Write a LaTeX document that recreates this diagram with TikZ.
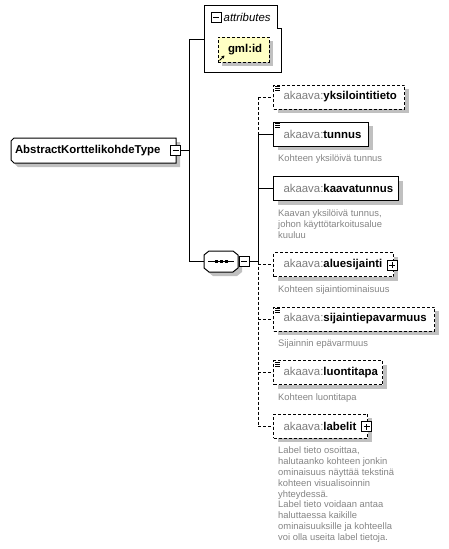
\documentclass[tikz,border=0pt]{standalone}
\usepackage{fontspec}
\setmainfont{Liberation Sans}
\usetikzlibrary{shadows,arrows.meta}
\definecolor{prefc}{HTML}{7C7C7C}
\definecolor{descc}{HTML}{858585}
\definecolor{shadowc}{HTML}{C0C0C0}
\definecolor{attrfill}{HTML}{FFFFC4}
\newcommand\lblsize{\fontsize{11.4pt}{13pt}\selectfont}
\newcommand\dscsize{\fontsize{9.4pt}{10.9pt}\selectfont}
\newcommand\elname[2]{\makebox[#1][l]{\textcolor{prefc}{akaava:}\textbf{#2}}}
\begin{document}
\begin{tikzpicture}[x=1pt,y=-1pt,
  shad/.style={drop shadow={shadow xshift=4pt,shadow yshift=-4pt,fill=shadowc,opacity=1}},
  elem/.style={draw,line width=1pt,fill=white,minimum height=24pt,inner sep=0pt,font=\lblsize,shad,anchor=west},
  optelem/.style={elem,dash pattern=on 3pt off 2pt},
  desc/.style={anchor=north west,inner sep=0pt,align=left,font=\dscsize,text=descc},
  conn/.style={line width=1pt},
  optconn/.style={conn,dash pattern=on 3pt off 2pt},
  pm/.style={draw,fill=white,minimum size=10pt,inner sep=0pt,line width=0.8pt},
  pmline/.style={line width=0.8pt},
  outline/.style={draw,line width=1pt,fill=white},
]
\fill[white] (0,0) rectangle (448,549);
\useasboundingbox (0,0) rectangle (448,549);

% main type node (shape drawn directly, node carries name and text)
\fill[shadowc] (18,142) -- (180,142) -- (180,167) -- (18,167) -- (15,164) -- (15,145) -- cycle;
\draw[outline] (14,138) -- (176,138) -- (176,163) -- (14,163) -- (11,160) -- (11,141) -- cycle;
\node[minimum width=165pt, minimum height=25pt, inner sep=0pt, font=\lblsize]
  (main) at (93.5,150.5) {\makebox[157pt][l]{\textbf{AbstractKorttelikohdeType}}};
\node[pm] (mainpm) at (175.5,150.5) {};
\draw[pmline] ([xshift=-3pt]mainpm.center) -- ([xshift=3pt]mainpm.center);

% attributes box
\draw[outline] (204,5) -- (277,5) -- (277,28) -- (281,28) -- (281,72) -- (204,72) -- cycle;
\coordinate (attrw) at (204,39);
\node[pm] (attrpm) at (216,17) {};
\draw[pmline] ([xshift=-3pt]attrpm.center) -- ([xshift=3pt]attrpm.center);
\node[anchor=west, inner sep=0pt, font=\lblsize\itshape] (attrlbl) at (223.5,17) {attributes};
\node[draw, dash pattern=on 3pt off 2pt, line width=1pt, fill=attrfill, shad,
  minimum width=51pt, minimum height=25pt, inner sep=0pt, font=\lblsize]
  (gmlid) at (243.5,49.5) {\makebox[31pt][l]{\textbf{gml:id}}};
\draw[line width=1pt, -{Stealth[length=3pt,width=3.5pt]}] ([shift={(2,-2)}]gmlid.south west) -- ++(5,-5);

% sequence compositor
\fill[shadowc] (213,255) -- (237,255) -- (242,259) -- (242,272) -- (237,276) -- (213,276) -- (208,272) -- (208,259) -- cycle;
\draw[outline] (209,251) -- (233,251) -- (238,255) -- (238,268) -- (233,272) -- (209,272) -- (204,268) -- (204,255) -- cycle;
\node[minimum width=34pt, minimum height=21pt, inner sep=0pt] (seq) at (221,261.5) {};
\draw[line width=1pt] ([xshift=-13pt]seq.center) -- ([xshift=13pt]seq.center);
\foreach \d in {-5,0,5} \fill ([xshift=\d pt]seq.center) +(-1.5,-1.5) rectangle +(1.5,1.5);
\node[pm, anchor=west] (seqpm) at ([xshift=0.5pt]seq.east) {};
\draw[pmline] ([xshift=-3pt]seqpm.center) -- ([xshift=3pt]seqpm.center);

% trunk 1
\coordinate (j1) at (189,150.5);
\coordinate (ja) at (189,39);
\coordinate (js) at (189,261.5);
\draw[conn] (mainpm.east) -- (j1);
\draw[conn] (attrw) -- (ja) -- (js) -- (seq.west);

% children
\node[optelem, minimum width=131pt] (c1) at (273,97) {\elname{111pt}{yksilointitieto}};
\node[elem, minimum width=95pt] (c2) at (273,134) {\elname{75pt}{tunnus}};
\node[elem, minimum width=125pt] (c3) at (273,188.5) {\elname{105pt}{kaavatunnus}};
\node[optelem, minimum width=120pt] (c4) at (273,264.5) {\elname{100pt}{aluesijainti}};
\node[optelem, minimum width=161pt] (c5) at (273,319) {\elname{141pt}{sijaintiepavarmuus}};
\node[optelem, minimum width=109pt] (c6) at (273,372.5) {\elname{89pt}{luontitapa}};
\node[optelem, minimum width=94pt] (c7) at (273,426) {\elname{74pt}{labelit}};

\node[pm] (c4pm) at (392,265) {};
\draw[pmline] ([xshift=-3pt]c4pm.center) -- ([xshift=3pt]c4pm.center);
\draw[pmline] ([yshift=-3pt]c4pm.center) -- ([yshift=3pt]c4pm.center);
\node[pm] (c7pm) at (366.5,426.5) {};
\draw[pmline] ([xshift=-3pt]c7pm.center) -- ([xshift=3pt]c7pm.center);
\draw[pmline] ([yshift=-3pt]c7pm.center) -- ([yshift=3pt]c7pm.center);

\foreach \n in {c1,c2,c5,c6} {
  \foreach \k in {2,4,6} \draw[line width=0.8pt] ([shift={(2,\k)}]\n.north west) -- ++(5,0);
}

% trunk 2
\coordinate (t1) at (258,97);
\coordinate (t2) at (258,134);
\coordinate (t3) at (258,188.5);
\coordinate (tseq) at (258,261.5);
\coordinate (t4) at (258,264.5);
\coordinate (t5) at (258,319);
\coordinate (t6) at (258,372.5);
\coordinate (t7) at (258,426);
\draw[conn] (seqpm.east) -- (tseq);
\draw[optconn] (t1) -- (t2);
\draw[conn] (t2) -- (tseq);
\draw[optconn] (tseq) -- (t7);
\draw[optconn] (t1) -- (c1.west);
\draw[conn] (t2) -- (c2.west);
\draw[conn] (t3) -- (c3.west);
\draw[optconn] (t4) -- (c4.west);
\draw[optconn] (t5) -- (c5.west);
\draw[optconn] (t6) -- (c6.west);
\draw[optconn] (t7) -- (c7.west);

% descriptions
\node[desc] (d2) at (278,154.7) {Kohteen yksilöivä tunnus};
\node[desc] (d3) at (278,209.7) {Kaavan yksilöivä tunnus,\\johon käyttötarkoitusalue\\kuuluu};
\node[desc] (d4) at (278,285.1) {Kohteen sijaintiominaisuus};
\node[desc] (d5) at (278,339.4) {Sijainnin epävarmuus};
\node[desc] (d6) at (278,393.1) {Kohteen luontitapa};
\node[desc] (d7) at (278,446.4) {Label tieto osoittaa,\\halutaanko kohteen jonkin\\ominaisuus näyttää tekstinä\\kohteen visualisoinnin\\yhteydessä.\\Label tieto voidaan antaa\\haluttaessa kaikille\\ominaisuuksille ja kohteella\\voi olla useita label tietoja.};
\end{tikzpicture}
\end{document}
